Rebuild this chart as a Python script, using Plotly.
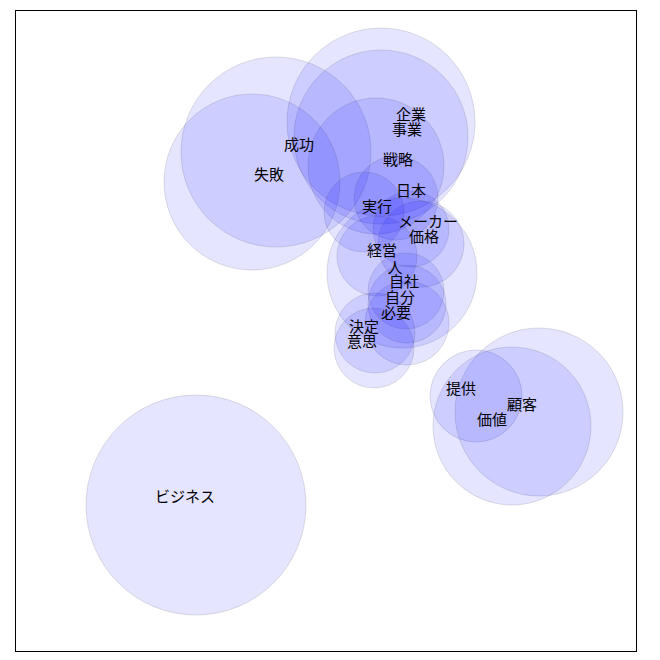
import plotly.graph_objects as go

words = ["企業", "事業", "成功", "戦略", "失敗", "日本", "実行", "メーカー", "価格", "経営",
         "人", "自社", "自分", "必要", "決定", "意思", "提供", "顧客", "価値", "ビジネス"]
circle_x = [365, 365, 260, 360, 236, 380, 348, 395, 405, 361,
            386, 390, 391, 391, 359, 358, 460, 523, 496, 180]
circle_y = [529, 514, 499, 485, 469, 453, 439, 422, 407, 395,
            378, 360, 347, 328, 318, 303, 255, 239, 225, 146]
circle_r = [94, 87, 95, 68, 88, 42, 40, 38, 43, 40,
            75, 38, 39, 42, 40, 40, 46, 84, 79, 110]
label_x = [395, 391, 283, 382, 253, 395, 361, 412, 408, 366,
           379, 388, 384, 380, 348, 346, 445, 506, 476, 169]
label_y = [535, 520, 505, 490, 475, 459, 443, 428, 413, 399,
           382, 368, 352, 337, 323, 308, 261, 245, 230, 153]

x_range = [0, 620]
y_range = [0, 640]

fig = go.Figure()

shapes = []
for cx, cy, r in zip(circle_x, circle_y, circle_r):
    shapes.append(dict(
        type="circle", xref="x", yref="y",
        x0=cx - r, x1=cx + r, y0=cy - r, y1=cy + r,
        fillcolor="rgba(0,0,255,0.1)",
        line=dict(color="rgba(60,60,90,0.16)", width=1),
        layer="below",
    ))

fig.add_trace(go.Scatter(
    x=label_x, y=label_y, mode="text", text=words,
    textposition="middle center",
    textfont=dict(family="Noto Sans CJK JP", size=15, color="black"),
    hoverinfo="skip", showlegend=False,
))

fig.update_layout(
    width=660, height=660,
    margin=dict(l=8, r=32, t=3, b=17),
    paper_bgcolor="white", plot_bgcolor="white",
    shapes=shapes,
    xaxis=dict(range=x_range, showgrid=False, zeroline=False, showticklabels=False,
               ticks="", showline=True, linecolor="black", linewidth=1, mirror=True),
    yaxis=dict(range=y_range, showgrid=False, zeroline=False, showticklabels=False,
               ticks="", showline=True, linecolor="black", linewidth=1, mirror=True),
)

fig.write_html("out.html")
